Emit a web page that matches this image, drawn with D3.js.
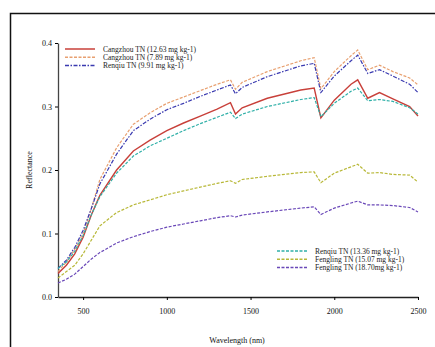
<!DOCTYPE html>
<html>
<head>
<meta charset="utf-8">
<script src="https://cdn.jsdelivr.net/npm/d3@7"></script>
<style>
  body { margin: 0; background: #fff; }
  svg { display: block; font-family: "Liberation Serif", "DejaVu Serif", serif; }
</style>
</head>
<body>
<svg id="chart" width="435" height="347"></svg>
<script>
const wavelengths = [350, 400, 450, 500, 550, 600, 700, 800, 900, 1000, 1100, 1200, 1300, 1380, 1410, 1450,
  1600, 1800, 1880, 1920, 2000, 2100, 2140, 2200, 2270, 2350, 2450, 2500];

const cangzhou1263 = [0.037, 0.050, 0.068, 0.094, 0.130, 0.160, 0.200, 0.230, 0.247, 0.262, 0.274, 0.285, 0.296, 0.306, 0.288, 0.298,
  0.313, 0.326, 0.329, 0.282, 0.310, 0.335, 0.342, 0.313, 0.322, 0.312, 0.300, 0.285];
const cangzhou789 = [0.040, 0.055, 0.075, 0.100, 0.140, 0.185, 0.235, 0.272, 0.290, 0.305, 0.315, 0.325, 0.335, 0.342, 0.327, 0.338,
  0.355, 0.372, 0.377, 0.328, 0.355, 0.380, 0.389, 0.358, 0.365, 0.355, 0.345, 0.334];
const renqiu991 = [0.045, 0.058, 0.078, 0.105, 0.140, 0.178, 0.225, 0.262, 0.280, 0.295, 0.305, 0.316, 0.326, 0.334, 0.320, 0.330,
  0.347, 0.364, 0.368, 0.322, 0.348, 0.372, 0.381, 0.352, 0.358, 0.348, 0.335, 0.322];
const renqiu1336 = [0.045, 0.055, 0.072, 0.097, 0.130, 0.158, 0.195, 0.222, 0.238, 0.250, 0.262, 0.273, 0.283, 0.291, 0.281, 0.288,
  0.300, 0.311, 0.314, 0.284, 0.305, 0.324, 0.329, 0.309, 0.311, 0.308, 0.298, 0.288];
const fengling1507 = [0.030, 0.040, 0.050, 0.068, 0.090, 0.112, 0.133, 0.145, 0.153, 0.161, 0.167, 0.173, 0.179, 0.183, 0.179, 0.185,
  0.190, 0.196, 0.197, 0.180, 0.195, 0.205, 0.209, 0.195, 0.196, 0.193, 0.192, 0.181];
const fengling1870 = [0.022, 0.028, 0.036, 0.048, 0.060, 0.070, 0.085, 0.095, 0.103, 0.110, 0.115, 0.120, 0.125, 0.128, 0.126, 0.129,
  0.134, 0.140, 0.142, 0.130, 0.140, 0.148, 0.151, 0.145, 0.145, 0.144, 0.141, 0.134];

const xTicks = [500, 1000, 1500, 2000, 2500];
const yTicks = [0.0, 0.1, 0.2, 0.3, 0.4];

const series = [
  { label: "Cangzhou TN (12.63 mg kg-1)", values: cangzhou1263, color: "#c8403a", dash: null, width: 1.4, legend: 0 },
  { label: "Cangzhou TN (7.89 mg kg-1)", values: cangzhou789, color: "#e8a070", dash: "3,1.5", width: 1.2, legend: 0 },
  { label: "Renqiu TN (9.91 mg kg-1)", values: renqiu991, color: "#3a3ab0", dash: "4,1.5,1.5,1.5", width: 1.2, legend: 0 },
  { label: "Renqiu TN (13.36 mg kg-1)", values: renqiu1336, color: "#30b0a8", dash: "3,1.5", width: 1.2, legend: 1 },
  { label: "Fengling TN (15.07 mg kg-1)", values: fengling1507, color: "#b8b838", dash: "3,1.5", width: 1.2, legend: 1 },
  { label: "Fengling TN (18.70mg kg-1)", values: fengling1870, color: "#6a48b8", dash: "3,1.5", width: 1.2, legend: 1 }
];

const svg = d3.select("#chart");
const x = d3.scaleLinear().domain([350, 2500]).range([58, 418]);
const y = d3.scaleLinear().domain([0, 0.4]).range([297, 43]);

// outer frame
svg.append("rect")
  .attr("x", 10.5).attr("y", 13.5)
  .attr("width", 440).attr("height", 350)
  .attr("fill", "none").attr("stroke", "#111").attr("stroke-width", 1.5);

const xAxis = svg.append("g")
  .attr("transform", `translate(0,${y(0)})`)
  .call(d3.axisBottom(x).tickValues(xTicks).tickSize(3).tickSizeOuter(0).tickFormat(d3.format("d")));
xAxis.select(".domain").attr("stroke", "#222").attr("stroke-width", 1.3);
xAxis.selectAll("text").attr("font-size", 8).attr("font-family", "Liberation Serif").attr("fill", "#111").attr("dy", "1.4em");

const yAxis = svg.append("g")
  .attr("transform", `translate(${x(350)},0)`)
  .call(d3.axisLeft(y).tickValues(yTicks).tickSize(3).tickSizeOuter(0).tickFormat(d3.format(".1f")));
yAxis.select(".domain").attr("stroke", "#444").attr("stroke-width", 1.3);
yAxis.selectAll("text").attr("font-size", 8).attr("font-family", "Liberation Serif").attr("fill", "#111").attr("x", -6);

const line = d3.line()
  .x((d, i) => x(wavelengths[i]))
  .y((d) => y(d));

series.forEach((s) => {
  svg.append("path")
    .attr("d", line(s.values))
    .attr("fill", "none")
    .attr("stroke", s.color)
    .attr("stroke-width", s.width)
    .attr("stroke-dasharray", s.dash);
});

// legends
const legendPos = [{ x: 65, y: 49 }, { x: 277, y: 251 }];
const legendCount = [0, 0];
series.forEach((s) => {
  const p = legendPos[s.legend];
  const yy = p.y + legendCount[s.legend] * 8.3;
  legendCount[s.legend] += 1;
  svg.append("line")
    .attr("x1", p.x).attr("x2", p.x + 30)
    .attr("y1", yy).attr("y2", yy)
    .attr("stroke", s.color).attr("stroke-width", 1.5)
    .attr("stroke-dasharray", s.dash);
  svg.append("text")
    .attr("x", p.x + 38).attr("y", yy + 2.5)
    .attr("font-size", 7.5).attr("fill", "#222")
    .text(s.label);
});

svg.append("text")
  .attr("x", 237).attr("y", 343)
  .attr("text-anchor", "middle").attr("font-size", 8).attr("fill", "#111")
  .text("Wavelength (nm)");

svg.append("text")
  .attr("transform", "translate(32,170) rotate(-90)")
  .attr("text-anchor", "middle").attr("font-size", 8).attr("fill", "#111")
  .text("Reflectance");
</script>
</body>
</html>
